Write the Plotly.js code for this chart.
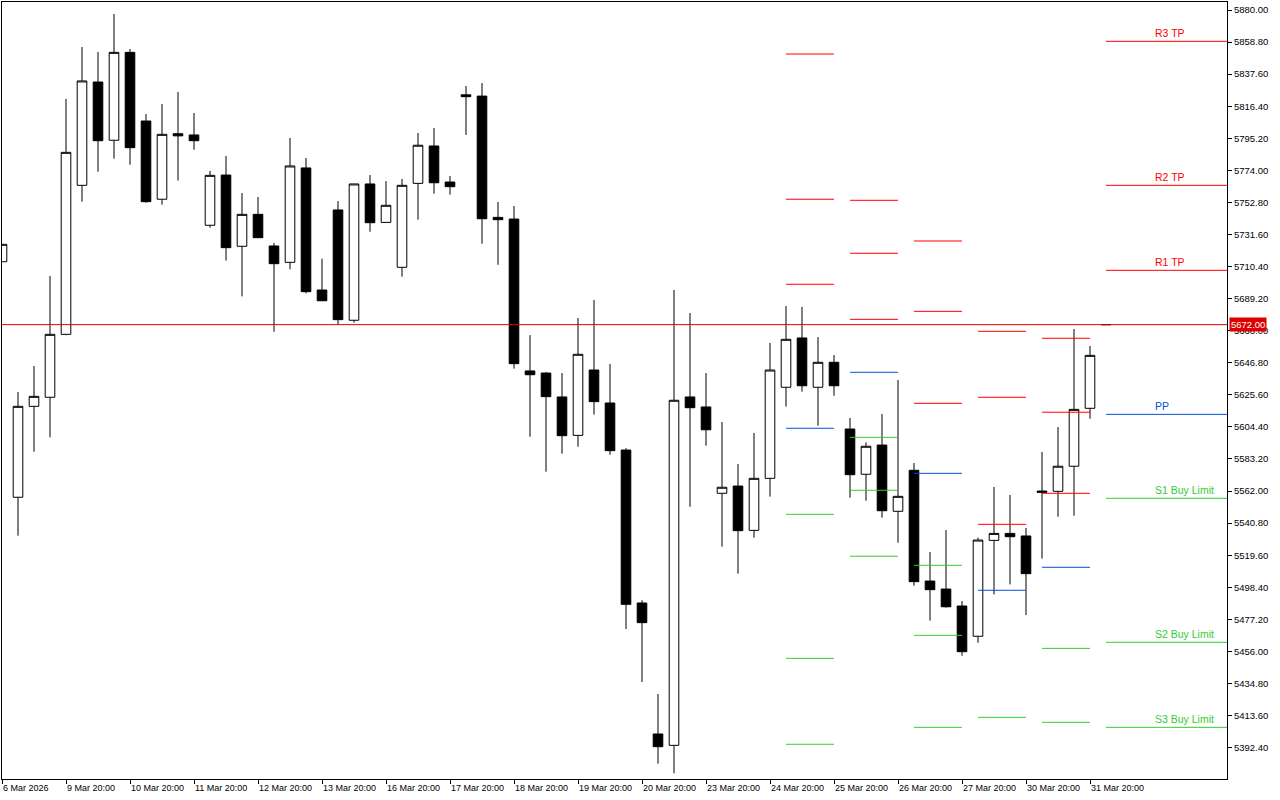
<!DOCTYPE html>
<html>
<head>
<meta charset="utf-8">
<script src="https://cdn.plot.ly/plotly-3.0.1.min.js"></script>
<style>
html,body{margin:0;padding:0;background:#fff;}
#chart{width:1280px;height:800px;}
</style>
</head>
<body>
<div id="chart"></div>
<script>
// ---- bar data (bar index, OHLC) ----
const barIndex = [-1,0,1,2,3,4,5,6,7,8,9,10,11,12,13,14,15,16,17,18,19,20,21,22,23,24,25,26,27,28,29,30,31,32,33,34,35,36,37,38,39,40,41,42,43,44,45,46,47,48,49,50,51,52,53,54,55,56,57,58,59,60,61,62,63,64,65,66,67,68];
const opens  = [5713.6,5557.9,5618.0,5624.0,5665.6,5764.1,5832.4,5793.9,5852.0,5806.6,5754.9,5798.2,5797.4,5737.7,5770.9,5723.8,5744.9,5724.0,5713.2,5775.6,5694.9,5747.8,5674.9,5765.0,5739.6,5709.9,5765.4,5790.1,5766.3,5823.9,5823.1,5742.9,5741.8,5641.4,5640.0,5624.2,5598.8,5642.0,5620.2,5589.1,5488.0,5401.4,5393.9,5624.2,5617.6,5560.5,5565.3,5536.0,5570.4,5630.6,5663.2,5630.6,5647.1,5603.0,5573.1,5592.4,5548.6,5575.7,5502.5,5497.2,5486.0,5466.0,5529.4,5534.0,5532.3,5562.0,5561.8,5578.4,5616.7,5672.0];
const highs  = [5725.1,5627.5,5644.7,5704.2,5821.2,5855.5,5852.2,5877.4,5854.2,5811.2,5817.9,5825.8,5811.9,5773.6,5783.5,5759.0,5756.4,5726.0,5795.4,5782.2,5715.6,5753.7,5765.0,5770.9,5766.9,5768.3,5798.7,5802.0,5770.3,5829.8,5831.7,5753.1,5750.4,5665.1,5640.7,5640.0,5676.4,5688.3,5646.0,5590.4,5489.8,5427.8,5694.9,5679.7,5640.0,5607.6,5579.9,5600.4,5659.9,5684.3,5683.7,5663.8,5651.9,5610.3,5594.2,5613.0,5635.4,5580.5,5521.7,5536.2,5489.3,5531.2,5564.7,5559.4,5537.6,5587.8,5604.3,5669.1,5657.9,5672.0];
const lows   = [5713.6,5532.5,5588.0,5597.5,5665.0,5753.3,5773.1,5781.7,5777.7,5752.6,5751.3,5767.2,5787.6,5736.1,5714.3,5690.7,5729.5,5667.3,5708.6,5692.7,5687.8,5672.4,5673.3,5733.4,5739.6,5703.7,5741.4,5758.6,5757.9,5797.4,5725.5,5711.6,5642.9,5597.9,5574.8,5586.7,5591.3,5612.5,5586.0,5470.8,5435.8,5381.8,5375.4,5551.6,5592.0,5525.2,5507.4,5531.2,5558.3,5617.8,5627.7,5605.2,5625.0,5557.6,5555.6,5544.4,5527.8,5499.4,5476.3,5484.9,5453.1,5461.7,5493.7,5500.3,5480.0,5517.3,5545.0,5545.7,5609.8,5672.0];
const closes = [5725.1,5618.0,5624.6,5665.6,5785.9,5833.1,5793.6,5852.0,5789.0,5753.3,5797.8,5796.8,5793.6,5770.7,5722.9,5744.9,5729.5,5712.3,5776.9,5693.8,5687.8,5675.3,5765.0,5739.4,5750.9,5764.1,5790.6,5765.8,5763.2,5822.7,5742.0,5741.4,5646.2,5638.9,5624.4,5598.6,5652.4,5621.1,5588.7,5487.1,5475.0,5393.0,5622.0,5617.1,5602.5,5564.5,5535.8,5570.4,5642.0,5662.3,5631.6,5647.1,5631.6,5572.8,5591.6,5549.0,5558.5,5502.1,5496.8,5485.5,5455.8,5529.6,5534.0,5531.8,5507.4,5561.2,5578.4,5616.0,5651.7,5672.0];

const currentPrice = 5672.00;

// ---- daily pivot levels (first bar index of each day) ----
const pivotDayStart = [48, 52, 56, 60, 64, 68];
const r3Levels = [5850.9, 5754.2, 5727.3, 5667.6, 5663.0, 5859.3];
const r2Levels = [5754.9, 5719.2, 5680.8, 5624.0, 5614.1, 5764.1];
const r1Levels = [5698.7, 5675.5, 5620.0, 5540.0, 5560.5, 5707.9];
const ppLevels = [5603.5, 5640.5, 5573.7, 5496.4, 5511.6, 5612.7];
const s1Levels = [5546.6, 5597.5, 5512.9, 5412.4, 5458.0, 5557.2];
const s2Levels = [5451.4, 5562.5, 5466.6, 5368.8, 5409.1, 5462.0];
const s3Levels = [5394.6, 5518.9, 5405.8, 5284.8, 5355.5, 5405.8];
const levelLabels = ['R3 TP','R2 TP','R1 TP','PP','S1 Buy Limit','S2 Buy Limit','S3 Buy Limit'];

// ---- axis ticks ----
const xTickIdx = [-1,3,7,11,15,19,23,27,31,35,39,43,47,51,55,59,63,67];
const xTickLabels = ['6 Mar 2026','9 Mar 20:00','10 Mar 20:00','11 Mar 20:00','12 Mar 20:00','13 Mar 20:00','16 Mar 20:00','17 Mar 20:00','18 Mar 20:00','19 Mar 20:00','20 Mar 20:00','23 Mar 20:00','24 Mar 20:00','25 Mar 20:00','26 Mar 20:00','27 Mar 20:00','30 Mar 20:00','31 Mar 20:00'];
const yTicks = [5392.4,5413.6,5434.8,5456.0,5477.2,5498.4,5519.6,5540.8,5562.0,5583.2,5604.4,5625.6,5646.8,5668.0,5689.2,5710.4,5731.6,5752.8,5774.0,5795.2,5816.4,5837.6,5858.8,5880.0];

// ---- styling ----
const FONT = 'Liberation Sans, Arial, sans-serif';
const RED = '#FF0000', BLUE = '#0050D8', GREEN = '#32CD32';
const xRange = [-1, 75.5625];
const yRange = [5371.64, 5885.29];
const labelX = 71;

function segments(levels) {
  const xs = [], ys = [];
  levels.forEach((v, i) => {
    const s = pivotDayStart[i];
    const e = (i < pivotDayStart.length - 1) ? pivotDayStart[i + 1] - 1 : xRange[1];
    xs.push(s, e, null);
    ys.push(v, v, null);
  });
  return {x: xs, y: ys};
}
function levelTrace(levels, color) {
  const sg = segments(levels);
  return {type:'scatter', mode:'lines', x: sg.x, y: sg.y, line:{color: color, width:1},
          hoverinfo:'skip', showlegend:false};
}

const candleStyle = {
  increasing: {line:{color:'#000000', width:1}, fillcolor:'#FFFFFF'},
  decreasing: {line:{color:'#000000', width:1}, fillcolor:'#000000'},
  whiskerwidth: 0, hoverinfo:'skip', showlegend:false
};

const n = barIndex.length;
const traces = [
  Object.assign({type:'candlestick', x: barIndex.slice(0, n-1), open: opens.slice(0, n-1),
    high: highs.slice(0, n-1), low: lows.slice(0, n-1), close: closes.slice(0, n-1)}, candleStyle),
  levelTrace(r3Levels, RED), levelTrace(r2Levels, RED), levelTrace(r1Levels, RED),
  levelTrace(ppLevels, BLUE),
  levelTrace(s1Levels, GREEN), levelTrace(s2Levels, GREEN), levelTrace(s3Levels, GREEN),
  {type:'scatter', mode:'lines', x: xRange, y:[currentPrice, currentPrice],
   line:{color:'#E00000', width:1}, hoverinfo:'skip', showlegend:false},
  Object.assign({type:'candlestick', x: barIndex.slice(n-1), open: opens.slice(n-1),
    high: highs.slice(n-1), low: lows.slice(n-1), close: closes.slice(n-1)}, candleStyle)
];

const lastDay = pivotDayStart.length - 1;
const labelLevels = [r3Levels[lastDay], r2Levels[lastDay], r1Levels[lastDay], ppLevels[lastDay],
                     s1Levels[lastDay], s2Levels[lastDay], s3Levels[lastDay]];
const labelColors = [RED, RED, RED, BLUE, GREEN, GREEN, GREEN];

const annotations = levelLabels.map((t, i) => ({
  x: labelX, y: labelLevels[i], xref:'x', yref:'y', text: t, showarrow:false,
  xanchor:'left', yanchor:'bottom', borderpad:0, yshift:1,
  font:{family: FONT, size:10.5, color: labelColors[i]}
}));
annotations.push({
  x: 1, y: currentPrice, xref:'paper', yref:'y', text: currentPrice.toFixed(2), showarrow:false,
  xanchor:'left', yanchor:'middle', xshift:2, bgcolor:'#DD0000', borderpad:1,
  font:{family: FONT, size:9.5, color:'#FFFFFF'}
});

const layout = {
  width:1280, height:800,
  margin:{l:2, r:53, t:2, b:21},
  paper_bgcolor:'#FFFFFF', plot_bgcolor:'#FFFFFF',
  showlegend:false,
  boxgap:0.4, boxgroupgap:0,
  xaxis:{
    range: xRange, tickmode:'array', tickvals: xTickIdx, ticktext: xTickLabels,
    ticks:'outside', ticklen:4, tickcolor:'#000', tickwidth:1,
    ticklabelposition:'outside right',
    showline:true, linecolor:'#000', linewidth:1, mirror:true,
    showgrid:false, zeroline:false, fixedrange:true,
    rangeslider:{visible:false},
    tickfont:{family: FONT, size:9, color:'#000'}
  },
  yaxis:{
    side:'right', range: yRange, tickmode:'array', tickvals: yTicks,
    ticktext: yTicks.map(v => v.toFixed(2)),
    ticks:'outside', ticklen:4, tickcolor:'#000', tickwidth:1,
    showline:true, linecolor:'#000', linewidth:1, mirror:true,
    showgrid:false, zeroline:false, fixedrange:true,
    tickfont:{family: FONT, size:9.5, color:'#000'}
  },
  annotations: annotations
};

Plotly.newPlot('chart', traces, layout, {staticPlot:true, displayModeBar:false});
</script>
</body>
</html>
